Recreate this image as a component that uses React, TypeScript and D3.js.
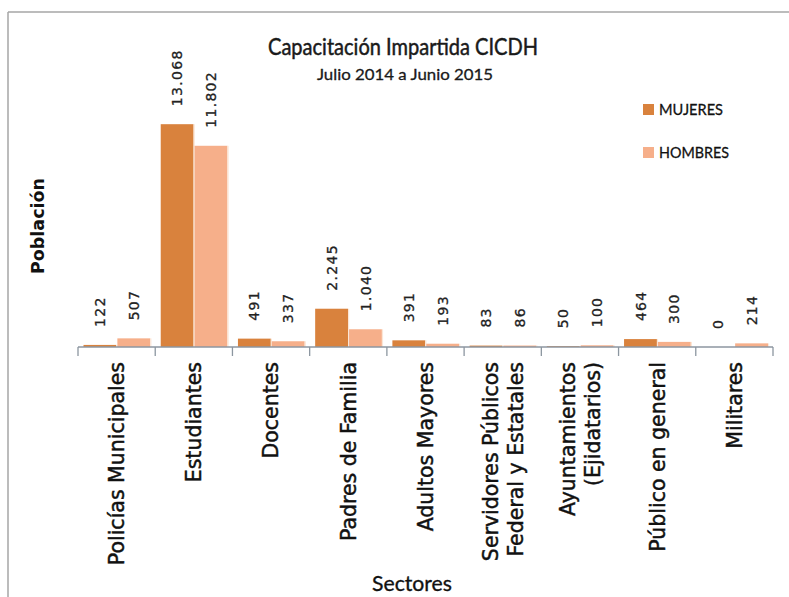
import React from "react";
import * as d3 from "d3";

const categories: string[][] = [
  ["Policías Municipales"],
  ["Estudiantes"],
  ["Docentes"],
  ["Padres de Familia"],
  ["Adultos Mayores"],
  ["Servidores Públicos", "Federal y Estatales"],
  ["Ayuntamientos", "(Ejidatarios)"],
  ["Público en general"],
  ["Militares"],
];
const mujeres = [122, 13068, 491, 2245, 391, 83, 50, 464, 0];
const hombres = [507, 11802, 337, 1040, 193, 86, 100, 300, 214];
const seriesNames = ["MUJERES", "HOMBRES"];
const seriesColors = ["#D9823D", "#F6AF8A"];

const W = 789;
const H = 597;
const axisY = 347;
const calibri = "'Liberation Sans Narrow', Lato, 'Open Sans', sans-serif";
const verdana = "'DejaVu Sans', Verdana, sans-serif";

const locale = d3.formatLocale({ decimal: ",", thousands: ".", grouping: [3], currency: ["", ""] });
const fmt = locale.format(",d");

export default function App() {
  const keys = categories.map((c) => c.join(" "));
  const x = d3.scaleBand<string>().domain(keys).range([78, 773]).padding(0);
  const inner = d3
    .scaleBand<string>()
    .domain(seriesNames)
    .range([5.5, x.bandwidth() - 5])
    .paddingInner(0.03);
  const y = d3.scaleLinear().domain([0, 14000]).range([axisY, axisY - 14000 * 0.01705]);
  const series = [mujeres, hombres];
  const ticks = [...keys.map((k) => x(k) as number), x.range()[1]];

  return (
    <svg
      width={W}
      height={H}
      style={{ position: "absolute", left: 0, top: 0, background: "#fff" }}
      xmlns="http://www.w3.org/2000/svg"
    >
      <rect x={0} y={0} width={W} height={H} fill="#fff" />
      {/* chart frame */}
      <line x1={8} y1={12} x2={W} y2={12} stroke="#a6a6a6" strokeWidth={1.5} />
      <line x1={8} y1={12} x2={8} y2={H} stroke="#a6a6a6" strokeWidth={1.5} />

      {/* title */}
      <text
        x={403}
        y={55}
        textAnchor="middle"
        fontFamily={calibri}
        fontSize={24}
        textLength={270}
        lengthAdjust="spacingAndGlyphs"
        fill="#1a1a1a"
        stroke="#1a1a1a"
        strokeWidth={0.5}
      >
        Capacitación Impartida CICDH
      </text>
      <text
        x={405}
        y={80}
        textAnchor="middle"
        fontFamily={calibri}
        fontSize={16}
        textLength={176}
        lengthAdjust="spacingAndGlyphs"
        fill="#1a1a1a"
        stroke="#1a1a1a"
        strokeWidth={0.3}
      >
        Julio 2014 a Junio 2015
      </text>

      {/* bars */}
      {series.map((vals, si) =>
        vals.map((v, i) => {
          const bx = (x(keys[i]) as number) + (inner(seriesNames[si]) as number);
          const bw = inner.bandwidth();
          return (
            <g key={`b-${si}-${i}`}>
              <rect x={bx} y={y(v)} width={bw} height={axisY - y(v)} fill={seriesColors[si]} />
              {v > 0 && (
                <rect x={bx + bw} y={y(v)} width={1.2} height={axisY - y(v)} fill="#fbe6d6" />
              )}
            </g>
          );
        })
      )}

      {/* data labels */}
      {series.map((vals, si) =>
        vals.map((v, i) => {
          const cx = (x(keys[i]) as number) + (inner(seriesNames[si]) as number) + inner.bandwidth() / 2;
          const ly = y(v) - 18;
          return (
            <text
              key={`l-${si}-${i}`}
              transform={`translate(${cx},${ly}) rotate(-90)`}
              dy="0.36em"
              textAnchor="start"
              fontFamily={verdana}
              fontSize={14}
              letterSpacing={1.3}
              fill="#222"
              stroke="#222"
              strokeWidth={0.3}
            >
              {fmt(v)}
            </text>
          );
        })
      )}

      {/* axis */}
      <line x1={x.range()[0]} y1={axisY} x2={x.range()[1]} y2={axisY} stroke="#8c96a0" strokeWidth={1.3} />
      {ticks.map((t, i) => (
        <line key={`t-${i}`} x1={t} y1={axisY} x2={t} y2={axisY + 9} stroke="#8c96a0" strokeWidth={1.3} />
      ))}

      {/* category labels */}
      {categories.map((lines, i) => {
        const c = (x(keys[i]) as number) + x.bandwidth() / 2;
        const n = lines.length;
        return lines.map((ln, j) => {
          const lx = c + (j - (n - 1) / 2) * 25;
          return (
            <text
              key={`c-${i}-${j}`}
              transform={`translate(${lx},362) rotate(-90)`}
              dy="0.36em"
              textAnchor="end"
              fontFamily={verdana}
              fontSize={20.5}
              fill="#111"
              stroke="#111"
              strokeWidth={0.45}
            >
              {ln}
            </text>
          );
        });
      })}

      {/* axis titles */}
      <text
        transform={`translate(38,226) rotate(-90)`}
        dy="0.36em"
        textAnchor="middle"
        fontFamily={verdana}
        fontWeight="bold"
        fontSize={17.5}
        fill="#111"
      >
        Población
      </text>
      <text
        x={412}
        y={591}
        textAnchor="middle"
        fontFamily={calibri}
        fontSize={22}
        textLength={80}
        lengthAdjust="spacingAndGlyphs"
        fill="#111"
        stroke="#111"
        strokeWidth={0.35}
      >
        Sectores
      </text>

      {/* legend */}
      {seriesNames.map((s, i) => (
        <g key={`lg-${s}`} transform={`translate(643,${104 + i * 43})`}>
          <rect x={0} y={0} width={11} height={11} fill={seriesColors[i]} />
          <text
            x={16}
            y={10.5}
            fontFamily={calibri}
            fontSize={16}
            textLength={i === 0 ? 64 : 70}
            lengthAdjust="spacingAndGlyphs"
            fill="#111"
            stroke="#111"
            strokeWidth={0.3}
          >
            {s}
          </text>
        </g>
      ))}
    </svg>
  );
}
